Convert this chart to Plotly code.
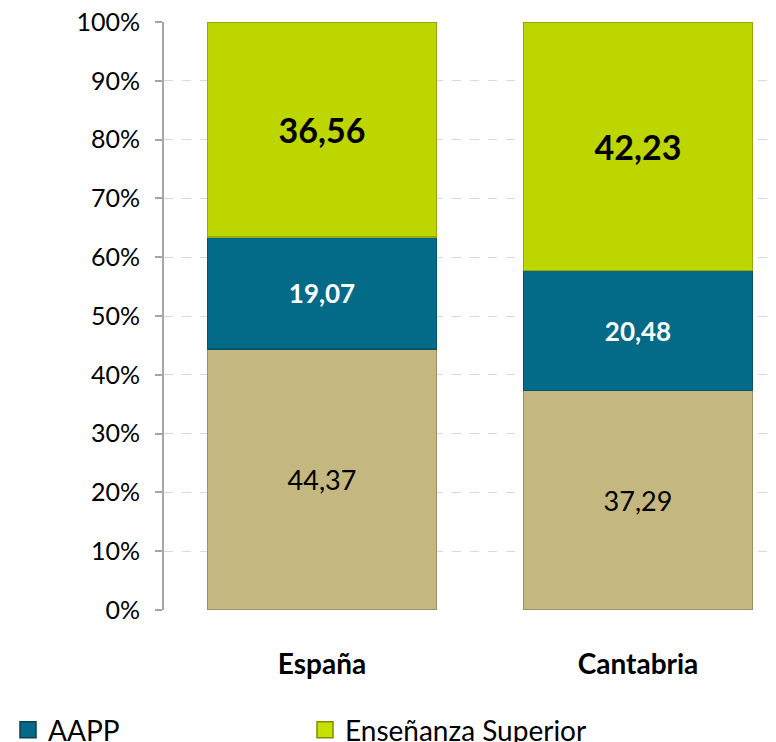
import plotly.graph_objects as go

categories = ["España", "Cantabria"]
empresas = [44.37, 37.29]
aapp = [19.07, 20.48]
ens_sup = [36.56, 42.23]
series_names = ["Empresas", "AAPP", "Enseñanza Superior"]
y_ticks = [0, 10, 20, 30, 40, 50, 60, 70, 80, 90, 100]
y_tick_labels = [f"{v}%" for v in y_ticks]

def fmt(v):
    return f"{v:.2f}".replace(".", ",")

FONT = "Lato, Calibri, sans-serif"
x = [0, 1]
fig = go.Figure()
fig.add_trace(go.Bar(
    x=x, y=empresas, name=series_names[0], showlegend=False,
    marker=dict(color="#C4B77F", line=dict(color="#9E9160", width=1.5)),
    text=[fmt(v) for v in empresas], textposition="inside", insidetextanchor="middle",
    textfont=dict(family=FONT, size=27, color="black"), width=0.725,
))
fig.add_trace(go.Bar(
    x=x, y=aapp, name=series_names[1], showlegend=False,
    marker=dict(color="#036A88", line=dict(color="#02536B", width=1.5)),
    text=[f"<b>{fmt(v)}</b>" for v in aapp], textposition="inside", insidetextanchor="middle",
    textfont=dict(family=FONT, size=26, color="white"), width=0.725,
))
fig.add_trace(go.Bar(
    x=x, y=ens_sup, name=series_names[2], showlegend=False,
    marker=dict(color="#BED600", line=dict(color="#98AA00", width=1.5)),
    text=[f"<b>{fmt(v)}</b>" for v in ens_sup], textposition="inside", insidetextanchor="middle",
    textfont=dict(family=FONT, size=34, color="black"), width=0.725,
))
# legend proxies (bigger square symbols)
for name, col, lc in [(series_names[1], "#036A88", "#0B3F52"), (series_names[2], "#C8E000", "#7F8F00")]:
    fig.add_trace(go.Scatter(x=[None], y=[None], mode="markers", name=name,
                             marker=dict(symbol="square", size=19, color=col,
                                         line=dict(color=lc, width=1.5))))

fig.update_layout(
    barmode="stack",
    width=788, height=742,
    margin=dict(l=156, r=0, t=14, b=140, autoexpand=False),
    paper_bgcolor="white", plot_bgcolor="white",
    font=dict(family=FONT, color="black"),
    uniformtext=dict(mode=False),
    legend=dict(orientation="h", xref="container", yref="container",
                x=0.0, y=0.027, xanchor="left", yanchor="middle", traceorder="normal",
                font=dict(size=28, family=FONT), entrywidth=252, entrywidthmode="pixels",
                itemsizing="trace", itemwidth=30),
    xaxis=dict(tickmode="array", tickvals=x, ticktext=[f"<b>{c}</b>" for c in categories],
               range=[-0.5, 1.5], showgrid=False, zeroline=False, automargin=False,
               showline=False, ticks="", tickfont=dict(size=28, family=FONT),
               ticklabelstandoff=35),
    yaxis=dict(range=[0, 100], tickmode="array", tickvals=y_ticks, ticktext=y_tick_labels,
               showgrid=True, gridcolor="#D9D9D9", griddash="dash", gridwidth=1,
               zeroline=False, showline=True, linecolor="#A6A6A6", linewidth=2, automargin=False,
               ticks="outside", ticklen=7, tickcolor="#A6A6A6", tickwidth=2,
               ticklabeloverflow="allow",
               tickfont=dict(size=25, family=FONT), ticklabelstandoff=10),
)
fig.write_html("out.html")
